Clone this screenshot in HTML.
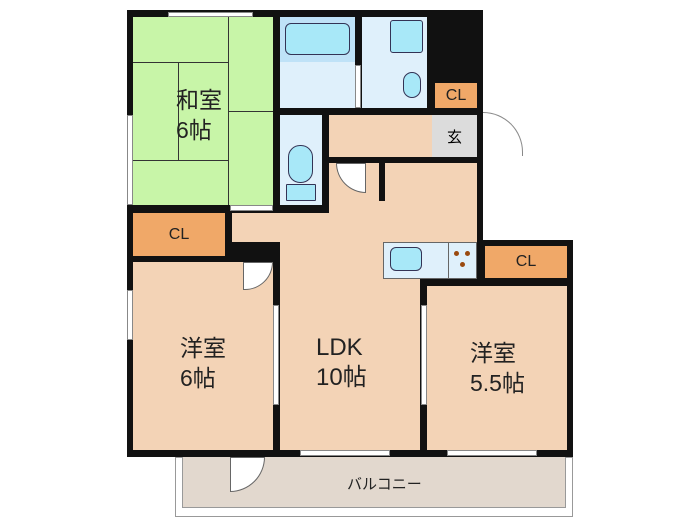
<!DOCTYPE html>
<html><head><meta charset="utf-8"><style>
body{margin:0;background:#fff;width:700px;height:525px;position:relative;overflow:hidden;font-family:"Liberation Sans","Noto Sans CJK JP",sans-serif}
div{position:absolute;box-sizing:border-box}
.k{background:#111}
.r{background:#f3d3b6}
.cl{background:#f0a868;font-size:16px;display:flex;align-items:center;justify-content:center;color:#222}
.w{background:#fff;border:1px solid #888}
.t{color:#222;font-size:23px;line-height:30px}
.bl{background:#dff0fb}
.fx{background:#a8e8f8;border:1.5px solid #335;border-radius:6px}
.g{background:#333}
</style></head><body>
<div class="k" style="left:127px;top:10px;width:356px;height:447px"></div>
<div class="k" style="left:420px;top:240px;width:153px;height:217px"></div>
<div style="left:133px;top:17px;width:140px;height:188px;background:#c8f5a8"></div>
<div class="g" style="left:228px;top:17px;width:1px;height:188px"></div>
<div class="g" style="left:133px;top:62px;width:95px;height:1px"></div>
<div class="g" style="left:133px;top:160px;width:95px;height:1px"></div>
<div class="g" style="left:178px;top:62px;width:1px;height:98px"></div>
<div class="g" style="left:228px;top:111px;width:45px;height:1px"></div>
<div class="t" style="left:176px;top:85px">和室<br>6帖</div>
<div class="bl" style="left:280px;top:17px;width:75px;height:91px"></div>
<div style="left:280px;top:17px;width:75px;height:45px;background:#bfe2f7"></div>
<div class="fx" style="left:285px;top:23px;width:65px;height:32px"></div>
<div class="w" style="left:355px;top:65px;width:6px;height:43px"></div>
<div class="bl" style="left:362px;top:17px;width:65px;height:91px"></div>
<div class="fx" style="left:390px;top:20px;width:33px;height:33px;border-radius:3px"></div>
<div class="fx" style="left:403px;top:72px;width:18px;height:26px;border-radius:9px"></div>
<div class="cl" style="left:435px;top:83px;width:42px;height:25px">CL</div>
<div style="left:432px;top:115px;width:45px;height:42px;background:#dcdcdc;font-size:15px;display:flex;align-items:center;justify-content:center">玄</div>
<div style="left:483px;top:112px;width:40px;height:44px;border:1px solid #888;border-left:none;border-bottom:none;border-radius:0 40px 0 0;background:#fff"></div>
<div class="bl" style="left:280px;top:115px;width:42px;height:90px"></div>
<div class="fx" style="left:288px;top:145px;width:25px;height:38px;border-radius:12px"></div>
<div class="fx" style="left:286px;top:184px;width:30px;height:17px;border-radius:1px"></div>
<div class="r" style="left:329px;top:115px;width:103px;height:42px"></div>
<div class="r" style="left:329px;top:163px;width:148px;height:57px"></div>
<div class="r" style="left:232px;top:213px;width:245px;height:29px"></div>
<div class="r" style="left:280px;top:240px;width:140px;height:210px"></div>
<div class="r" style="left:280px;top:240px;width:103px;height:40px"></div>
<div class="k" style="left:379px;top:163px;width:6px;height:38px"></div>
<div style="left:336px;top:163px;width:30px;height:30px;background:#fff;border:1px solid #666;border-radius:0 0 0 30px"></div>
<div class="bl" style="left:383px;top:242px;width:94px;height:37px;border:1px solid #666"></div>
<div class="fx" style="left:390px;top:247px;width:32px;height:24px"></div>
<div style="left:448px;top:242px;width:1px;height:37px;background:#666"></div>
<div style="left:454px;top:251px;width:5px;height:5px;border-radius:3px;background:#9a4a10"></div>
<div style="left:465px;top:251px;width:5px;height:5px;border-radius:3px;background:#9a4a10"></div>
<div style="left:460px;top:262px;width:5px;height:5px;border-radius:3px;background:#9a4a10"></div>
<div class="cl" style="left:133px;top:213px;width:92px;height:43px">CL</div>
<div class="r" style="left:133px;top:262px;width:140px;height:188px"></div>
<div class="t" style="left:180px;top:333px">洋室<br>6帖</div>
<div style="left:243px;top:262px;width:30px;height:28px;background:#fff;border:1px solid #666;border-radius:0 0 30px 0"></div>
<div class="t" style="left:316px;top:333px;font-size:24px">LDK<br>10帖</div>
<div class="cl" style="left:485px;top:246px;width:82px;height:32px">CL</div>
<div class="r" style="left:427px;top:286px;width:140px;height:164px"></div>
<div class="t" style="left:470px;top:338px">洋室<br>5.5帖</div>
<div class="w" style="left:168px;top:12px;width:85px;height:5px"></div>
<div class="w" style="left:127px;top:115px;width:6px;height:90px"></div>
<div class="w" style="left:127px;top:290px;width:6px;height:50px"></div>
<div class="w" style="left:300px;top:450px;width:90px;height:6px"></div>
<div class="w" style="left:447px;top:450px;width:90px;height:6px"></div>
<div class="w" style="left:273px;top:305px;width:6px;height:100px"></div>
<div class="w" style="left:421px;top:305px;width:6px;height:100px"></div>
<div class="w" style="left:230px;top:205px;width:43px;height:6px"></div>
<div style="left:175px;top:457px;width:398px;height:60px;background:#fff;border:1px solid #999"></div>
<div style="left:182px;top:457px;width:384px;height:51px;background:#e2d8ce;border:1px solid #999;border-top:none"></div>
<div style="left:230px;top:457px;width:35px;height:35px;background:#fff;border:1px solid #666;border-radius:0 0 35px 0"></div>
<div style="left:347px;top:473px;font-size:15px;color:#222">バルコニー</div>
</body></html>
